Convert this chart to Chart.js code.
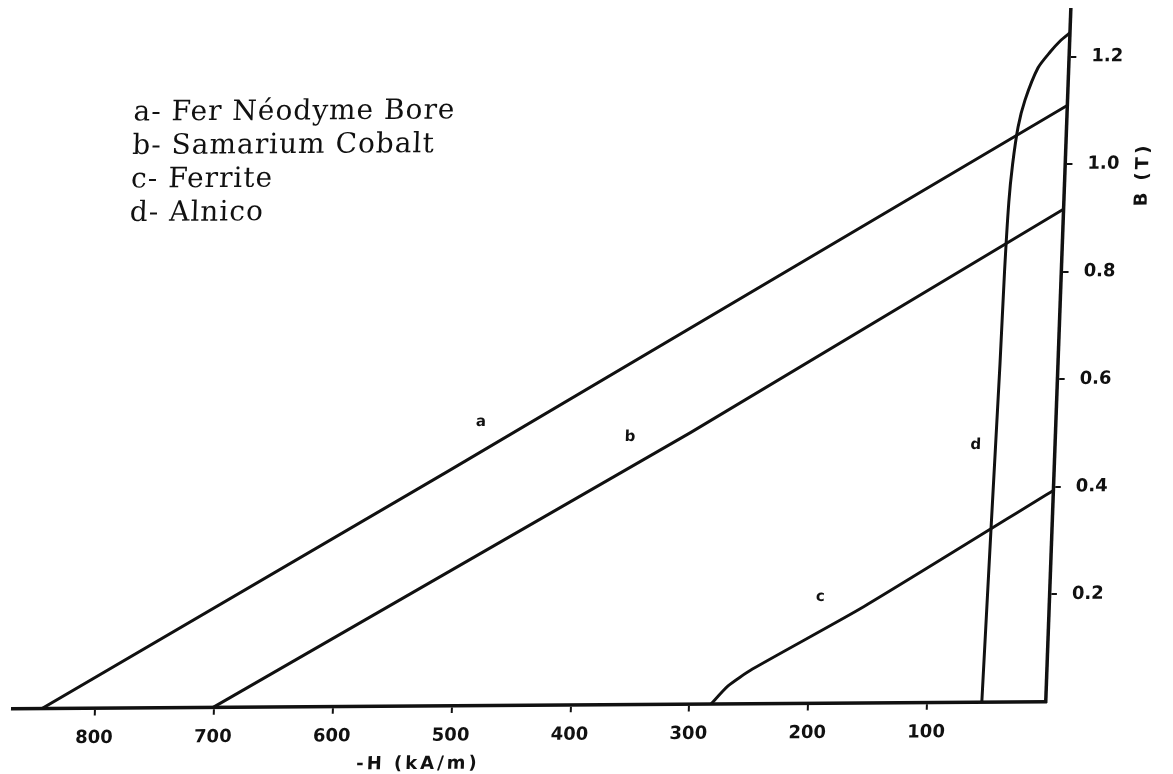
<!DOCTYPE html>
<html>
<head>
<meta charset="utf-8">
<title>Courbes de désaimantation</title>
<script src="https://cdn.jsdelivr.net/npm/chart.js@4.4.0/dist/chart.umd.min.js"></script>
<style>
  html, body { margin: 0; padding: 0; background: #fff; }
  #wrap { width: 1173px; height: 774px; }
</style>
</head>
<body>
<div id="wrap"><canvas id="myChart" width="1173" height="774"></canvas></div>
<script>
// -H in kA/m, B in tesla
const feNdB_H = [845, 510, 0];
const feNdB_B = [0, 0.437, 1.11];

const smCo_H = [701, 307, 0];
const smCo_B = [0, 0.506, 0.917];

const ferrite_H = [282, 268, 248, 156, 0];
const ferrite_B = [0, 0.034, 0.065, 0.18, 0.394];

const alnico_H = [54, 51.5, 49, 48, 46.5, 44.5, 41, 36, 26, 16, 8, 0];
const alnico_B = [0, 0.326, 0.63, 0.8, 0.93, 1.0, 1.07, 1.12, 1.18, 1.21, 1.23, 1.245];

// letters written next to each curve
const curveTags = ['a', 'b', 'c', 'd'];
const tagH = [484, 358, 193, 67];
const tagB = [0.528, 0.498, 0.198, 0.479];

const legendLines = ['a- Fer Néodyme Bore', 'b- Samarium Cobalt', 'c- Ferrite', 'd- Alnico'];

const xTitle = '-H (kA/m)';
const yTitle = 'B (T)';

const ink = '#111';
const plotFont = 'bold 18px "DejaVu Sans"';

function pairs(hs, bs)
{
    return hs.map((h, i) => ({x: h, y: bs[i]}));
}

function curve(label, hs, bs, tension)
{
    return {
        label: label,
        data: pairs(hs, bs),
        borderColor: ink,
        borderWidth: 3,
        pointRadius: 0,
        fill: false,
        tension: tension
    };
}

// hides the tick mark that sits on the corner at zero
function tickColour(c)
{
    return c.tick && c.tick.value === 0 ? 'rgba(0,0,0,0)' : ink;
}

// the printed figure is slightly sheared: the B axis leans right towards the top
// and the H axis drops a little towards the left
const scanTilt =
{
    id: 'scanTilt',
    beforeDraw(chart)
    {
        const ctx = chart.ctx;
        ctx.save();
        ctx.transform(1, -0.00678, -0.0362, 1, 25.4, 7.09);
    },
    afterDraw(chart)
    {
        chart.ctx.restore();
    }
};

const notes =
{
    id: 'notes',
    afterDatasetsDraw(chart)
    {
        const ctx = chart.ctx;
        const x = chart.scales.x;
        const y = chart.scales.y;
        ctx.save();
        ctx.fillStyle = ink;

        // curve letters
        ctx.font = 'bold 15px "DejaVu Sans"';
        ctx.textAlign = 'center';
        ctx.textBaseline = 'middle';
        curveTags.forEach((t, i) => {
            ctx.fillText(t, x.getPixelForValue(tagH[i]), y.getPixelForValue(tagB[i]));
        });

        // material list
        ctx.font = '28px "DejaVu Serif"';
        ctx.letterSpacing = '1px';
        ctx.textAlign = 'left';
        legendLines.forEach((t, i) => {
            ctx.fillText(t, 112, 107 + i * 33.5);
        });

        // axis titles
        ctx.font = plotFont;
        ctx.letterSpacing = '3px';
        ctx.textAlign = 'center';
        ctx.fillText(xTitle, 420, 760);

        ctx.translate(1124, y.getPixelForValue(0.98));
        ctx.rotate(-Math.PI / 2);
        ctx.fillText(yTitle, 0, 0);
        ctx.restore();
    }
};

let chart_1 = new Chart(document.getElementById('myChart'),
{
    type: 'line',
    data:
    {
        datasets:
        [
            curve('a', feNdB_H, feNdB_B, 0),
            curve('b', smCo_H, smCo_B, 0),
            curve('c', ferrite_H, ferrite_B, 0.2),
            curve('d', alnico_H, alnico_B, 0.25)
        ]
    },
    options:
    {
        responsive: false,
        animation: false,
        devicePixelRatio: 1,
        layout: { padding: { left: 13, top: 10, right: 0, bottom: 0 } },
        plugins:
        {
            legend: { display: false },
            tooltip: { enabled: false }
        },
        scales:
        {
            x:
            {
                type: 'linear',
                reverse: true,
                min: 0,
                max: 869,
                border: { display: true, color: ink, width: 3.5 },
                grid: { drawOnChartArea: false, drawTicks: true, tickLength: 7, lineWidth: 2, color: tickColour },
                ticks:
                {
                    stepSize: 100,
                    includeBounds: false,
                    autoSkip: false,
                    maxRotation: 0,
                    padding: 12,
                    color: ink,
                    font: { family: 'DejaVu Sans', size: 18, weight: 'bold' },
                    callback: v => v === 0 ? '' : String(v)
                },
                afterFit: s => { s.height = 72; s.paddingLeft = 0; s.paddingRight = 0; }
            },
            y:
            {
                type: 'linear',
                position: 'right',
                min: 0,
                max: 1.287,
                border: { display: true, color: ink, width: 3.5 },
                grid: { drawOnChartArea: false, drawTicks: true, tickLength: 7, lineWidth: 2, color: tickColour },
                ticks:
                {
                    stepSize: 0.2,
                    includeBounds: false,
                    padding: 15,
                    color: ink,
                    font: { family: 'DejaVu Sans', size: 18, weight: 'bold' },
                    callback: v => v === 0 ? '' : v.toFixed(1)
                },
                afterFit: s => { s.width = 127; s.paddingTop = 0; s.paddingBottom = 0; }
            }
        }
    },
    plugins: [scanTilt, notes]
});
</script>
</body>
</html>
